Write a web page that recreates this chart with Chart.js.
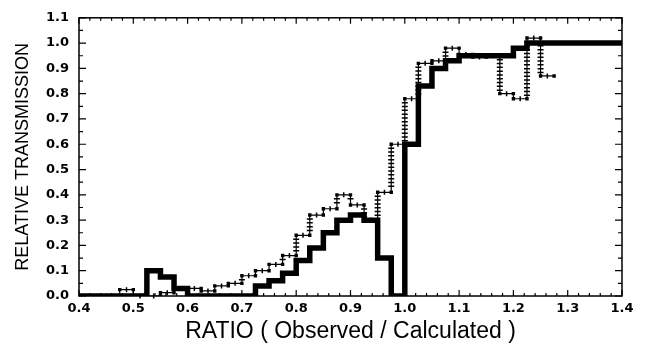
<!DOCTYPE html>
<html><head><meta charset="utf-8">
<script src="https://cdn.jsdelivr.net/npm/chart.js@4/dist/chart.umd.min.js"></script>
<style>html,body{margin:0;padding:0;background:#fff}#wrap{width:645px;height:346px}</style>
</head><body><div id="wrap"><canvas id="c" width="645" height="346"></canvas></div>
<script>
// Thick solid step histogram: bin edges and the value held in each bin
const solidEdges  = [0.4, 0.525, 0.55, 0.575, 0.6, 0.725, 0.75, 0.775, 0.8, 0.825, 0.85, 0.875, 0.9, 0.925, 0.95, 0.975, 1.0, 1.025, 1.05, 1.075, 1.1, 1.2, 1.225, 1.4];
const solidValues = [0, 0.10, 0.075, 0.03, 0, 0.04, 0.06, 0.09, 0.14, 0.19, 0.25, 0.30, 0.32, 0.30, 0.15, 0, 0.60, 0.83, 0.90, 0.93, 0.95, 0.98, 1.0];
// Dotted (+) step histogram with square markers
const dottedEdges  = [0.475, 0.5, 0.525, 0.55, 0.575, 0.6, 0.625, 0.65, 0.675, 0.7, 0.725, 0.75, 0.775, 0.8, 0.825, 0.85, 0.875, 0.9, 0.925, 0.95, 0.975, 1.0, 1.025, 1.05, 1.075, 1.1, 1.125, 1.15, 1.175, 1.2, 1.225, 1.25, 1.275];
const dottedValues = [0.025, 0, 0, 0.013, 0.03, 0.03, 0.02, 0.04, 0.05, 0.08, 0.10, 0.125, 0.16, 0.24, 0.32, 0.345, 0.40, 0.36, 0.30, 0.41, 0.60, 0.78, 0.92, 0.93, 0.98, 0.955, 0.945, 0.95, 0.80, 0.78, 1.02, 0.87];
// Axis ticks
const xTicks = {min: 0.4, max: 1.4, step: 0.1, minor: 0.02};
const yTicks = {min: 0.0, max: 1.1, step: 0.1, minor: 0.05};

function stepPoints(edges, values, fromZero) {
  const pts = [];
  if (fromZero) pts.push({x: edges[0], y: 0});
  values.forEach((v, i) => pts.push({x: edges[i], y: v}));
  pts.push({x: edges[edges.length - 1], y: values[values.length - 1]});
  return pts;
}
function binEndPoints(edges, values) {
  const pts = [];
  values.forEach((v, i) => { pts.push({x: edges[i], y: v}); pts.push({x: edges[i + 1], y: v}); });
  return pts;
}

const DOTTED_LINE = 1;

const crossPlugin = {
  id: 'crosses',
  afterDatasetDraw(chart, args) {
    if (args.index !== DOTTED_LINE) return;
    const pts = args.meta.data;
    const ctx = chart.ctx;
    ctx.save();
    ctx.strokeStyle = '#000';
    ctx.lineWidth = 1.5;
    ctx.beginPath();
    for (let i = 1; i < pts.length; i++) {
      const p = pts[i - 1], q = pts[i];
      const len = Math.abs(q.x - p.x);
      if (len > 8) {
        const mx = (p.x + q.x) / 2;
        ctx.moveTo(mx, p.y - 2.5); ctx.lineTo(mx, p.y + 2.5);
      }
      const y0 = Math.min(p.y, q.y), y1 = Math.max(p.y, q.y);
      for (let y = y0 + 4; y <= y1 - 3; y += 3.8) {
        ctx.moveTo(q.x - 3, y); ctx.lineTo(q.x + 3, y);
      }
    }
    ctx.stroke();
    ctx.restore();
  }
};

const framePlugin = {
  id: 'frame',
  afterDraw(chart) {
    const {ctx, chartArea: a, scales: {x, y}} = chart;
    ctx.save();
    ctx.strokeStyle = '#000';
    ctx.lineWidth = 1.5;
    ctx.strokeRect(a.left, a.top, a.right - a.left, a.bottom - a.top);
    ctx.lineWidth = 1.2;
    ctx.beginPath();
    const nx = Math.round((xTicks.max - xTicks.min) / xTicks.minor);
    for (let i = 0; i <= nx; i++) {
      const v = xTicks.min + i * xTicks.minor;
      const major = i % 5 === 0;
      const px = x.getPixelForValue(v);
      const L = major ? 6 : 3;
      ctx.moveTo(px, a.bottom); ctx.lineTo(px, a.bottom - L);
      ctx.moveTo(px, a.top); ctx.lineTo(px, a.top + L);
    }
    const ny = Math.round((yTicks.max - yTicks.min) / yTicks.minor);
    for (let i = 0; i <= ny; i++) {
      const v = yTicks.min + i * yTicks.minor;
      const major = i % 2 === 0;
      const py = y.getPixelForValue(v);
      const L = major ? 7 : 4;
      ctx.moveTo(a.left, py); ctx.lineTo(a.left + L, py);
      ctx.moveTo(a.right, py); ctx.lineTo(a.right - L, py);
    }
    ctx.stroke();
    ctx.restore();
  }
};

const tickFont = {family: 'DejaVu Sans, sans-serif', size: 13, weight: 'bold'};

new Chart(document.getElementById('c'), {
  type: 'line',
  data: {
    datasets: [
      {
        type: 'scatter', data: binEndPoints(dottedEdges, dottedValues), showLine: false,
        pointStyle: 'rect', pointRadius: 2.4, backgroundColor: '#000', borderColor: '#000', borderWidth: 0, order: 2
      },
      {
        data: stepPoints(dottedEdges, dottedValues, true), stepped: 'before',
        borderColor: '#000', borderWidth: 1.2, pointRadius: 0, fill: false, order: 1
      },
      {
        data: stepPoints(solidEdges, solidValues, false), stepped: 'before',
        borderColor: '#000', borderWidth: 5.5, pointRadius: 0, fill: false, order: 0,
        borderJoinStyle: 'miter', borderCapStyle: 'butt'
      }
    ]
  },
  options: {
    responsive: false, animation: false, devicePixelRatio: 1,
    layout: {padding: {top: 13, right: 23, left: 0, bottom: 0}},
    plugins: {legend: {display: false}, tooltip: {enabled: false}},
    scales: {
      x: {
        type: 'linear', min: xTicks.min, max: xTicks.max,
        grid: {display: false, drawTicks: false}, border: {display: false},
        ticks: {stepSize: xTicks.step, autoSkip: false, maxRotation: 0, padding: 5, color: '#000',
          font: tickFont, callback: v => Number(v).toFixed(1)},
        title: {display: true, text: 'RATIO ( Observed / Calculated )', color: '#000',
          font: {family: 'Liberation Sans, Arial, sans-serif', size: 23}, padding: {top: 0, bottom: 1}},
        afterFit: s => { s.height = 50; }
      },
      y: {
        type: 'linear', min: yTicks.min, max: yTicks.max,
        grid: {display: false, drawTicks: false}, border: {display: false},
        ticks: {stepSize: yTicks.step, autoSkip: false, padding: 10, color: '#000',
          font: tickFont, callback: v => Number(v).toFixed(1)},
        title: {display: true, text: 'RELATIVE TRANSMISSION', color: '#000',
          font: {family: 'Liberation Sans, Arial, sans-serif', size: 18}, padding: {top: 12, bottom: 0}},
        afterFit: s => { s.width = 79; }
      }
    }
  },
  plugins: [crossPlugin, framePlugin]
});
</script></body></html>
